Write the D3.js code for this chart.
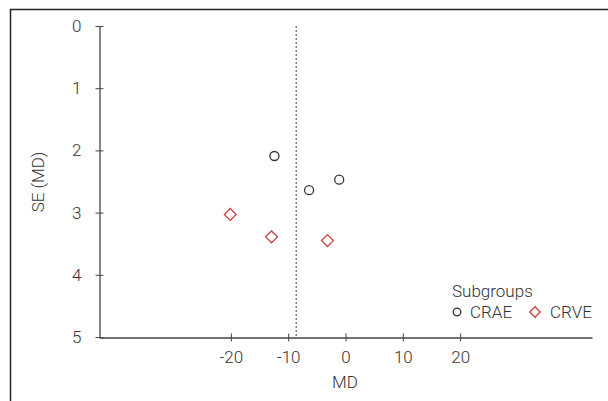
<!DOCTYPE html>
<html>
<head>
<meta charset="utf-8">
<script src="https://cdn.jsdelivr.net/npm/d3@7"></script>
<style>
  body { margin: 0; background: #fff; }
  svg text { font-family: Roboto, "Noto Sans", sans-serif; font-weight: 300; fill: #333; }
</style>
</head>
<body>
<div id="chart"></div>
<script>
// data
const craeMD = [-12.4, -6.35, -1.1];
const craeSE = [2.09, 2.64, 2.47];
const crveMD = [-20.1, -12.9, -3.15];
const crveSE = [3.03, 3.39, 3.45];
const pooledMD = -8.6;
const xTicks = [-20, -10, 0, 10, 20];
const yTicks = [0, 1, 2, 3, 4, 5];
const legendNames = ['CRAE', 'CRVE'];

const W = 608, H = 401;
const fs = '17px';
const svg = d3.select('#chart').append('svg').attr('width', W).attr('height', H);

// frame
svg.append('path')
    .attr('d', `M10.5,${H} V9.5 H${W}`)
    .attr('fill', 'none')
    .attr('stroke', '#222')
    .attr('stroke-width', 1.5);

const x = d3.scaleLinear().domain([-43, 43]).range([99, 592]);
const y = d3.scaleLinear().domain([0, 5]).range([26, 337]);

// y axis
const yAxis = svg.append('g').attr('transform', 'translate(99.5,0)')
    .call(d3.axisLeft(y).tickValues(yTicks).tickFormat(d3.format('d'))
        .tickSizeInner(4).tickSizeOuter(0).tickPadding(14));
yAxis.selectAll('.tick line').attr('x2', 4).attr('x1', -4);
yAxis.selectAll('.tick text').style('font-size', fs);

// x axis
const xAxis = svg.append('g').attr('transform', 'translate(0,337.5)')
    .call(d3.axisBottom(x).tickValues(xTicks).tickSizeInner(4).tickSizeOuter(0).tickPadding(9));
xAxis.selectAll('.tick line').attr('y1', -4).attr('y2', 4);
xAxis.selectAll('.tick text').style('font-size', fs).text(d => d < 0 ? '-' + Math.abs(d) : d);
svg.selectAll('.domain').attr('stroke', '#444').attr('stroke-width', 1.3);
svg.selectAll('.tick line').attr('stroke', '#444');

// pooled estimate line
svg.append('line')
    .attr('x1', x(pooledMD)).attr('x2', x(pooledMD))
    .attr('y1', y(0)).attr('y2', y(5))
    .attr('stroke', '#666')
    .attr('stroke-width', 1.2)
    .attr('stroke-dasharray', '2,2');

// points
svg.selectAll('.crae').data(craeMD).enter().append('circle')
    .attr('class', 'crae')
    .attr('cx', d => x(d))
    .attr('cy', (d, i) => y(craeSE[i]))
    .attr('r', 4.5)
    .attr('fill', 'none')
    .attr('stroke', '#333')
    .attr('stroke-width', 1.3);

const diamond = d3.symbol().type(d3.symbolDiamond2).size(90);
svg.selectAll('.crve').data(crveMD).enter().append('path')
    .attr('class', 'crve')
    .attr('d', diamond)
    .attr('transform', (d, i) => `translate(${x(d)},${y(crveSE[i])})`)
    .attr('fill', 'none')
    .attr('stroke', '#c8403f')
    .attr('stroke-width', 1.3);

// axis titles
svg.append('text')
    .attr('x', 345).attr('y', 388)
    .attr('text-anchor', 'middle')
    .style('font-size', fs)
    .text('MD');

svg.append('text')
    .attr('transform', 'translate(44,182) rotate(-90)')
    .attr('text-anchor', 'middle')
    .style('font-size', fs)
    .text('SE (MD)');

// legend
const legend = svg.append('g');
legend.append('text').attr('x', 452).attr('y', 297).style('font-size', fs).text('Subgroups');
legend.append('circle').attr('cx', 457).attr('cy', 312).attr('r', 3.8)
    .attr('fill', 'none').attr('stroke', '#333').attr('stroke-width', 1.3);
legend.append('text').attr('x', 470).attr('y', 318).style('font-size', fs).text(legendNames[0]);
legend.append('path').attr('d', d3.symbol().type(d3.symbolDiamond2).size(70))
    .attr('transform', 'translate(535,312)')
    .attr('fill', 'none').attr('stroke', '#c8403f').attr('stroke-width', 1.3);
legend.append('text').attr('x', 550).attr('y', 318).style('font-size', fs).text(legendNames[1]);
</script>
</body>
</html>
